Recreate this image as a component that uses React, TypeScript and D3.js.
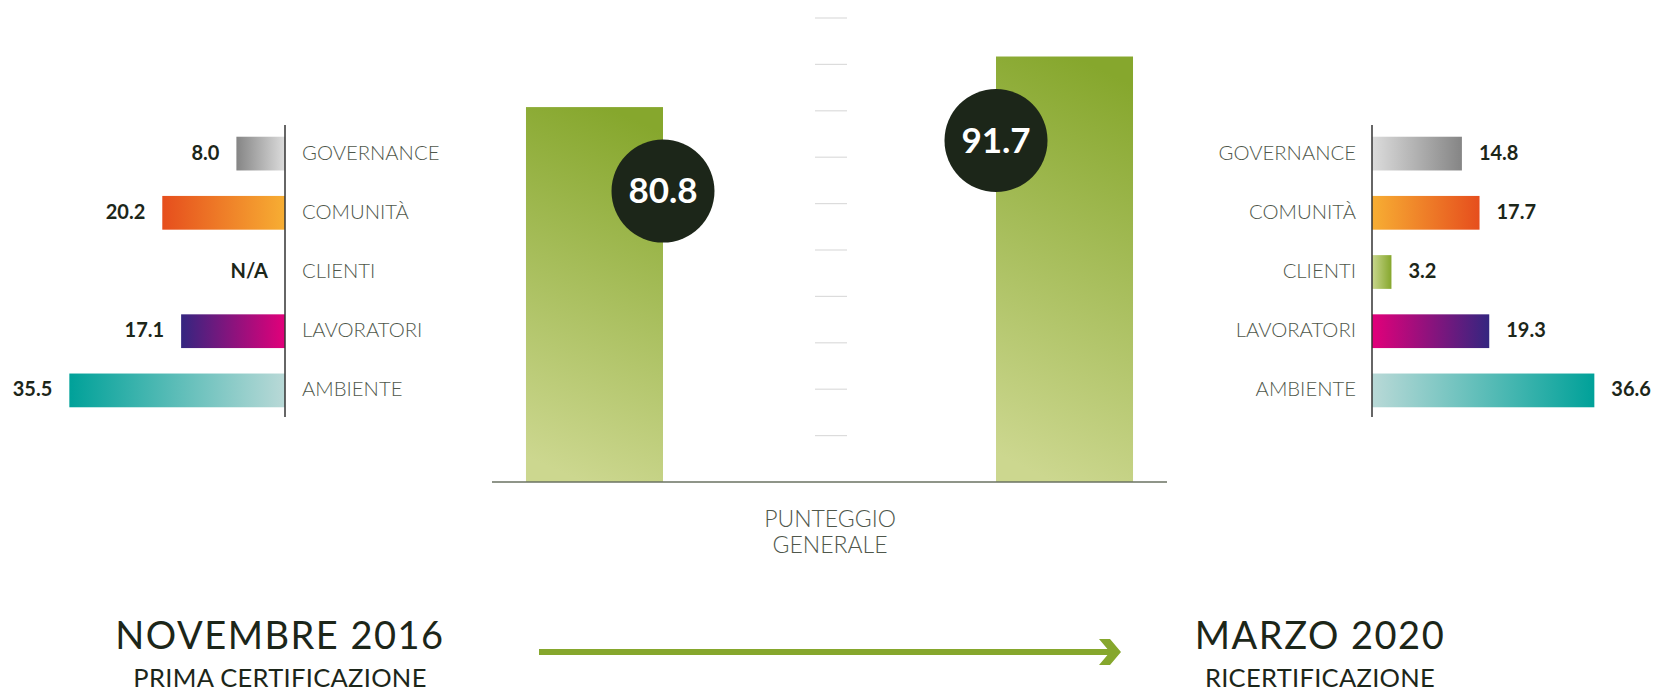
import React from "react";
import * as d3 from "d3";

const categories = ["GOVERNANCE", "COMUNITÀ", "CLIENTI", "LAVORATORI", "AMBIENTE"];
const values2016: (number | null)[] = [8.0, 20.2, null, 17.1, 35.5];
const values2020: number[] = [14.8, 17.7, 3.2, 19.3, 36.6];
const totalLabels = ["2016", "2020"];
const totalValues = [80.8, 91.7];
const totalTicks = [10, 20, 30, 40, 50, 60, 70, 80, 90, 100];
const dateTitles = ["NOVEMBRE 2016", "MARZO 2020"];
const dateSubtitles = ["PRIMA CERTIFICAZIONE", "RICERTIFICAZIONE"];
const centerLabel = ["PUNTEGGIO", "GENERALE"];

// gradient pairs: [outer (far from axis), inner (near axis)]
const catGradients: Record<string, [string, string]> = {
  GOVERNANCE: ["#858585", "#dcdcdc"],
  "COMUNITÀ": ["#e64e1d", "#f7ae33"],
  CLIENTI: ["#86a72d", "#c9d78f"],
  LAVORATORI: ["#342680", "#e2007a"],
  AMBIENTE: ["#00a199", "#b9d9d7"],
};

const W = 1655;
const H = 691;
const FONT = "Lato, 'Noto Sans', sans-serif";
const LABEL = "#4f574b";
const DARK = "#1c2619";
const GREEN = "#86a72d";

export default function App() {
  const band = d3.scaleBand<string>().domain(categories).range([124, 420]).paddingInner(0.43).paddingOuter(0.215);
  const xs = d3.scaleLinear().domain([0, 40]).range([0, 243]);
  const leftAxis = 285;
  const rightAxis = 1372;

  const bx = d3.scaleBand<string>().domain(totalLabels).range([492, 1167]).paddingInner(0.7085).paddingOuter(0.0723);
  const y = d3.scaleLinear().domain([0, 100]).range([482, 18]);
  const tickX = 831;

  return (
    <svg width={W} height={H} style={{ position: "fixed", left: 0, top: 0, background: "#fff" }} fontFamily={FONT}>
      <defs>
        {categories.map((c) => (
          <React.Fragment key={c}>
            <linearGradient id={`gl-${c}`} x1="0" x2="1" y1="0" y2="0">
              <stop offset="0" stopColor={catGradients[c][0]} />
              <stop offset="1" stopColor={catGradients[c][1]} />
            </linearGradient>
            <linearGradient id={`gr-${c}`} x1="0" x2="1" y1="0" y2="0">
              <stop offset="0" stopColor={catGradients[c][1]} />
              <stop offset="1" stopColor={catGradients[c][0]} />
            </linearGradient>
          </React.Fragment>
        ))}
        <linearGradient id="bigbar" x1="0.42" y1="1" x2="0.58" y2="0">
          <stop offset="0" stopColor="#ccd78f" />
          <stop offset="1" stopColor="#86a72d" />
        </linearGradient>
      </defs>

      {/* left small chart */}
      <g>
        {categories.map((c, i) => {
          const v = values2016[i];
          const yy = band(c)!;
          const bw = band.bandwidth();
          const w = v == null ? 0 : xs(v);
          return (
            <g key={c}>
              {v != null && <rect x={leftAxis - w} y={yy} width={w} height={bw} fill={`url(#gl-${c})`} />}
              <text x={leftAxis - w - 17} y={yy + bw / 2} dy="0.3em" textAnchor="end" fontSize={20} fontWeight={700} fill={DARK}>
                {v == null ? "N/A" : v.toFixed(1)}
              </text>
              <text x={leftAxis + 17} y={yy + bw / 2} dy="0.3em" fontSize={20.3} fontWeight={300} fill={LABEL}>
                {c}
              </text>
            </g>
          );
        })}
        <line x1={leftAxis} x2={leftAxis} y1={125} y2={417} stroke="#333" strokeWidth={1.5} />
      </g>

      {/* right small chart */}
      <g>
        {categories.map((c, i) => {
          const v = values2020[i];
          const yy = band(c)!;
          const bw = band.bandwidth();
          const w = xs(v);
          return (
            <g key={c}>
              <rect x={rightAxis} y={yy} width={w} height={bw} fill={`url(#gr-${c})`} />
              <text x={rightAxis + w + 17} y={yy + bw / 2} dy="0.3em" fontSize={20} fontWeight={700} fill={DARK}>
                {v.toFixed(1)}
              </text>
              <text x={rightAxis - 16} y={yy + bw / 2} dy="0.3em" textAnchor="end" fontSize={20.3} fontWeight={300} fill={LABEL}>
                {c}
              </text>
            </g>
          );
        })}
        <line x1={rightAxis} x2={rightAxis} y1={125} y2={417} stroke="#333" strokeWidth={1.5} />
      </g>

      {/* center chart */}
      <g>
        {totalTicks.map((t) => (
          <line key={t} x1={tickX - 16} x2={tickX + 16} y1={y(t)} y2={y(t)} stroke="#dcdcdc" strokeWidth={1.2} />
        ))}
        {totalLabels.map((l, i) => (
          <rect key={l} x={bx(l)!} y={y(totalValues[i])} width={bx.bandwidth()} height={y(0) - y(totalValues[i])} fill="url(#bigbar)" />
        ))}
        <line x1={492} x2={1167} y1={y(0)} y2={y(0)} stroke="#6a7262" strokeWidth={1.5} />
        {totalLabels.map((l, i) => {
          const cx = i === 0 ? bx(l)! + bx.bandwidth() : bx(l)!;
          const cy = y(totalValues[i]) + 84;
          return (
            <g key={l}>
              <circle cx={cx} cy={cy} r={51.5} fill={DARK} />
              <text x={cx} y={cy} dy="0.35em" textAnchor="middle" fontSize={35} fontWeight={700} fill="#fff">
                {totalValues[i].toFixed(1)}
              </text>
            </g>
          );
        })}
        <text x={830} y={527} textAnchor="middle" fontSize={23} fontWeight={300} fill={LABEL}>
          {centerLabel[0]}
        </text>
        <text x={830} y={553} textAnchor="middle" fontSize={23} fontWeight={300} fill={LABEL}>
          {centerLabel[1]}
        </text>
      </g>

      {/* bottom timeline */}
      <g>
        {[280, 1320].map((cx, i) => (
          <g key={i}>
            <text x={cx} y={649} textAnchor="middle" fontSize={38} fontWeight={400} letterSpacing={1.5} fill={DARK}>
              {dateTitles[i]}
            </text>
            <text x={cx} y={687} textAnchor="middle" fontSize={25.5} fontWeight={400} letterSpacing={0.3} fill={DARK}>
              {dateSubtitles[i]}
            </text>
          </g>
        ))}
        <line x1={539} x2={1112} y1={652} y2={652} stroke={GREEN} strokeWidth={6} />
        <polygon points="1099,639 1110,639 1121,652 1110,665 1099,665 1110,652" fill={GREEN} />
      </g>
    </svg>
  );
}
